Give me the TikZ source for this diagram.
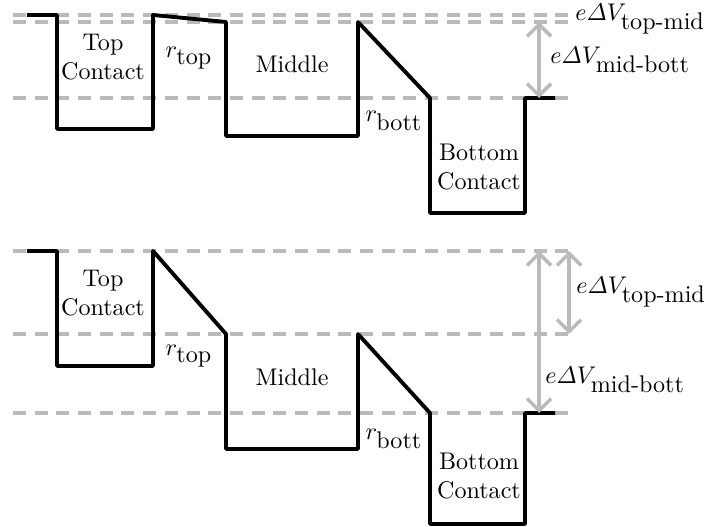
\documentclass[tikz,border=0pt]{standalone}
\usepackage{amsmath}
\usetikzlibrary{arrows.meta}
\begin{document}
\begin{tikzpicture}[x=0.415pt,y=-0.415pt,
  level/.style={draw=black!27,line width=1.5pt,dash pattern=on 5.4pt off 3.6pt},
  band/.style={draw=black,line width=1.6pt,line join=round},
  gap/.style={draw=black!27,line width=1.4pt,{Straight Barb[length=5pt,width=10pt]}-{Straight Barb[length=5pt,width=10pt]}},
  lbl/.style={inner sep=0pt,align=center,font=\normalsize}]
\useasboundingbox (0,0) rectangle (713,526);
% ---------- top diagram ----------
\draw[level] (13,15) -- (570,15);
\draw[level] (13,22) -- (570,22);
\draw[level] (13,98) -- (570,98);
\draw[band] (27,15) -- (57,15) -- (57,129) -- (153,129) -- (153,15) -- (226,22)
  -- (226,136) -- (358,136) -- (358,22) -- (430,98) -- (430,213) -- (525,213)
  -- (525,98) -- (555,98);
\coordinate (a1) at (539,22);
\coordinate (a2) at (539,98);
\draw[gap] (a1) -- (a2);
\node[lbl] (tc1) at (103,57) {Top\\Contact};
\node[lbl] (rt1) at (189,58) {$r_{\mbox{top}}$};
\node[lbl] (mi1) at (292,64) {Middle};
\node[lbl] (rb1) at (394,121) {$r_{\mbox{bott}}$};
\node[lbl] (bc1) at (479,167) {Bottom\\Contact};
\node[lbl,anchor=west] (v1) at (575,19) {$e\varDelta V_{\mbox{top-mid}}$};
\node[lbl,anchor=west] (v2) at (550,60) {$e\varDelta V_{\mbox{mid-bott}}$};
% ---------- bottom diagram ----------
\draw[level] (13,251) -- (570,251);
\draw[level] (13,334) -- (570,334);
\draw[level] (13,413) -- (570,413);
\draw[band] (27,251) -- (57,251) -- (57,366) -- (153,366) -- (153,251) -- (226,334)
  -- (226,449) -- (358,449) -- (358,334) -- (430,413) -- (430,524) -- (525,524)
  -- (525,413) -- (555,413);
\coordinate (b1) at (539,251);
\coordinate (b2) at (539,413);
\coordinate (c1) at (569,251);
\coordinate (c2) at (569,334);
\draw[gap] (b1) -- (b2);
\draw[gap] (c1) -- (c2);
\node[lbl] (tc2) at (103,293) {Top\\Contact};
\node[lbl] (rt2) at (189,356) {$r_{\mbox{top}}$};
\node[lbl] (mi2) at (292,377) {Middle};
\node[lbl] (rb2) at (394,439) {$r_{\mbox{bott}}$};
\node[lbl] (bc2) at (479,476) {Bottom\\Contact};
\node[lbl,anchor=west] (v3) at (576,292) {$e\varDelta V_{\mbox{top-mid}}$};
\node[lbl,anchor=west] (v4) at (545,380) {$e\varDelta V_{\mbox{mid-bott}}$};
\end{tikzpicture}
\end{document}
